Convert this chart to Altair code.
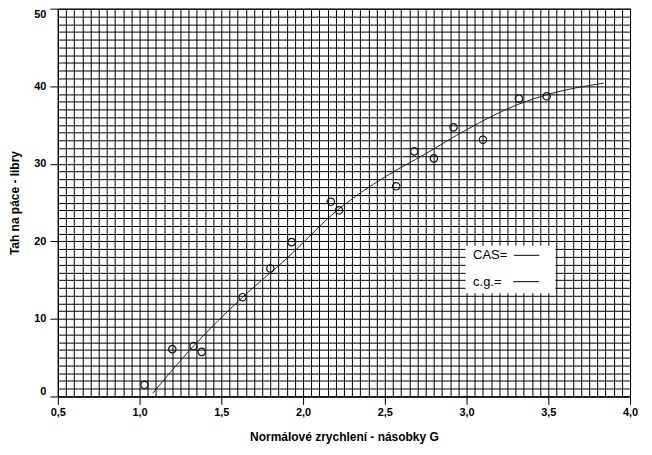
import altair as alt
import pandas as pd

# measured points (open circles)
x_pts = [1.03, 1.20, 1.33, 1.38, 1.63, 1.80, 1.93, 2.17, 2.22, 2.57, 2.68, 2.80, 2.92, 3.10, 3.32, 3.49]
y_pts = [1.5, 6.1, 6.5, 5.75, 12.8, 16.5, 19.9, 25.1, 24.0, 27.1, 31.6, 30.7, 34.7, 33.1, 38.4, 38.7]

# fitted curve
x_curve = [1.08, 1.33, 1.63, 1.89, 2.22, 2.50, 2.75, 3.00, 3.32, 3.49, 3.84]
y_curve = [0.4, 6.5, 12.8, 17.6, 24.2, 28.3, 31.3, 34.4, 37.7, 38.9, 40.4]

# grid / tick values
x_grid = [round(0.5 + 0.05 * i, 2) for i in range(71)]
y_grid = list(range(0, 51))

# legend box content
legend_labels = ["CAS=", "c.g.="]
legend_rows_y = [18.2, 14.8]

FONT = "Liberation Sans"

pts = pd.DataFrame({"x": x_pts, "y": y_pts})
curve = pd.DataFrame({"x": x_curve, "y": y_curve})
box = pd.DataFrame({"x": [2.994], "x2": [3.543], "y": [13.3], "y2": [19.44]})
ltext = pd.DataFrame({"x": [3.04, 3.04], "y": legend_rows_y, "t": legend_labels})
llines = pd.DataFrame({"x": [3.29, 3.285], "x2": [3.445, 3.445], "y": legend_rows_y})

x_major = "abs(datum.value*2 - round(datum.value*2)) < 0.001"
y_major = "datum.value % 10 === 0"

x_axis = alt.Axis(
    values=x_grid, tickCount=500, grid=True, gridColor="black", gridOpacity=1, gridWidth=1,
    labelExpr=f"{x_major} ? replace(format(datum.value, '.1f'), '.', ',') : ''",
    tickOpacity={"condition": {"test": x_major, "value": 1}, "value": 0},
    tickSize=8, tickColor="black", domainColor="black",
    labelFont=FONT, labelFontWeight="bold", labelFontSize=11, labelColor="black",
    labelPadding=2, labelFlush=False, labelOverlap=False,
    title="Normálové zrychlení - násobky G", titleFont=FONT, titleFontSize=12,
    titleFontWeight="bold", titleColor="black", titlePadding=14,
)
y_axis = alt.Axis(
    values=y_grid, tickCount=500, grid=True, gridColor="black", gridOpacity=1, gridWidth=1,
    labelExpr=f"{y_major} ? format(datum.value, 'd') : ''",
    tickOpacity={"condition": {"test": y_major, "value": 1}, "value": 0},
    tickSize=8, tickColor="black", domainColor="black",
    labelFont=FONT, labelFontWeight="bold", labelFontSize=11, labelColor="black",
    labelPadding=4, labelFlush=True, labelOverlap=False,
    title="Tah na páce - libry", titleFont=FONT, titleFontSize=12,
    titleFontWeight="bold", titleColor="black", titlePadding=12,
)

xs = alt.Scale(domain=[0.5, 4.0], nice=False, zero=False)
ys = alt.Scale(domain=[0, 50], nice=False, zero=False)

line = alt.Chart(curve).mark_line(color="#222222", strokeWidth=1, interpolate="monotone").encode(
    x=alt.X("x:Q", scale=xs, axis=x_axis),
    y=alt.Y("y:Q", scale=ys, axis=y_axis),
)
points = alt.Chart(pts).mark_point(shape="circle", filled=False, color="#111111", size=55, strokeWidth=1.2, opacity=1).encode(
    x="x:Q", y="y:Q"
)
rect = alt.Chart(box).mark_rect(color="white").encode(
    x="x:Q", x2="x2:Q", y="y:Q", y2="y2:Q"
)
texts = alt.Chart(ltext).mark_text(align="left", baseline="middle", font=FONT, fontSize=13, color="black").encode(
    x="x:Q", y="y:Q", text="t:N"
)
lines = alt.Chart(llines).mark_rule(color="black", strokeWidth=1).encode(
    x="x:Q", x2="x2:Q", y="y:Q"
)

chart = alt.layer(line, points, rect, texts, lines).properties(
    width=574, height=389,
    autosize=alt.AutoSizeParams(type="none"),
    padding={"left": 50, "top": 0, "right": 14, "bottom": 50},
    background="white",
).configure_view(stroke="black", strokeWidth=1)

chart.save("out.html", embed_options={"renderer": "svg", "actions": False})
